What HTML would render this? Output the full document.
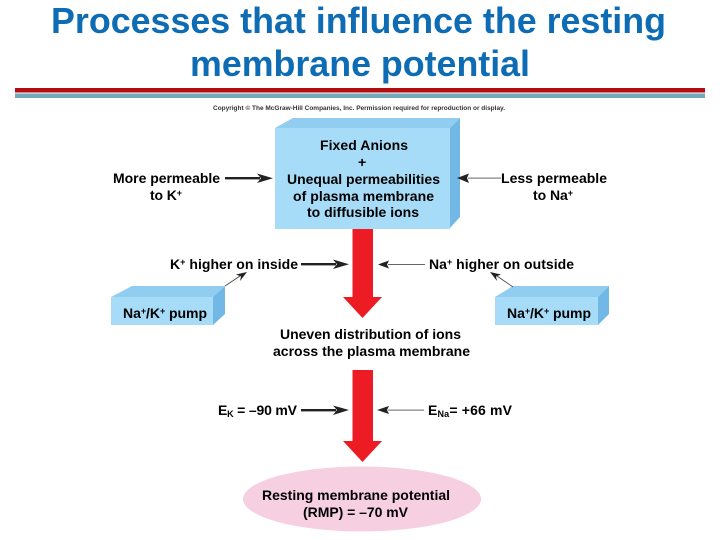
<!DOCTYPE html>
<html><head><meta charset="utf-8"><style>
html,body{margin:0;padding:0;background:#fff;width:720px;height:540px;overflow:hidden}
svg{display:block}
text{font-family:"Liberation Sans",sans-serif}
.l{font-size:14px;font-weight:bold;fill:#000}
.s{font-size:9px;font-weight:bold;fill:#000}
.t{font-size:36px;font-weight:bold;fill:#0d6cb3}
</style></head><body>
<svg width="720" height="540" viewBox="0 0 720 540" xmlns="http://www.w3.org/2000/svg">
<text class="t" x="51" y="33" textLength="615" lengthAdjust="spacingAndGlyphs">Processes that influence the resting</text>
<text class="t" x="190" y="76" textLength="340" lengthAdjust="spacingAndGlyphs">membrane potential</text>
<rect x="15" y="88" width="690" height="4.5" fill="#b30d12"/>
<rect x="15" y="93.5" width="690" height="4.5" fill="#72a9b8"/>
<text x="213" y="110" font-size="6.5" font-weight="bold" fill="#333" textLength="292" lengthAdjust="spacing">Copyright © The McGraw-Hill Companies, Inc. Permission required for reproduction or display.</text>

<!-- main box -->
<polygon points="275,128 293,118 460,118 450,128" fill="#90cdf0"/>
<polygon points="450,128 460,118 460,217 449,229" fill="#72b8e6"/>
<rect x="275" y="128" width="175" height="101" fill="#a6dcf8"/>

<!-- pumps -->
<polygon points="111,297 132,286 225,286 213,297" fill="#90cdf0"/>
<polygon points="213,297 225,286 225,314 213,325" fill="#72b8e6"/>
<rect x="111" y="297" width="102" height="28" fill="#a6dcf8"/>
<polygon points="495,297 513,286 609,286 598,297" fill="#90cdf0"/>
<polygon points="598,297 609,286 609,314 598,325" fill="#72b8e6"/>
<rect x="495" y="297" width="103" height="28" fill="#a6dcf8"/>

<!-- red arrows -->
<polygon points="352.5,229 373,229 373,297 382,297 362.5,318 343,297 352.5,297" fill="#ed1c24"/>
<polygon points="352.5,370 373,370 373,441 382,441 362.5,462 343,441 352.5,441" fill="#ed1c24"/>

<ellipse cx="362" cy="499" rx="119" ry="32.5" fill="#f6cfe0"/>

<!-- thick arrows -->
<g fill="#222">
<rect x="225" y="177" width="35" height="2.4"/><polygon points="273,178.2 257,173.5 261,178.2 257,183"/>
<rect x="301" y="263" width="35" height="2.4"/><polygon points="349,264.2 333,259.5 337,264.2 333,269"/>
<rect x="301" y="409" width="35" height="2.4"/><polygon points="349,410 333,405.5 337,410 333,415"/>
<!-- thin arrows -->
<rect x="468" y="177.6" width="33" height="1" fill="#666"/><polygon points="457,178 469,173.5 467,178 469,183"/>
<rect x="388" y="264" width="37" height="1" fill="#666"/><polygon points="378,264.5 389,260.5 387,264.5 389,268.5"/>
<rect x="388" y="409.6" width="36" height="1" fill="#666"/><polygon points="377,410 389,406 387,410 389,414"/>
</g>
<g stroke="#444" stroke-width=".8" fill="none">
<line x1="225" y1="286" x2="240" y2="276"/>
<line x1="513" y1="287" x2="497" y2="276"/>
</g>
<polygon points="247,272 236,274.5 241,276.5 240,281" fill="#222"/>
<polygon points="490,272 501,274.5 496,276.5 497,281" fill="#222"/>

<!-- labels -->
<text class="l" x="113" y="183" textLength="107">More permeable</text>
<text class="l" x="150" y="200" textLength="32">to K<tspan class="s" dy="-4">+</tspan></text>
<text class="l" x="320" y="150" textLength="88">Fixed Anions</text>
<text class="l" x="358" y="167">+</text>
<text class="l" x="287" y="184" textLength="153">Unequal permeabilities</text>
<text class="l" x="293" y="201" textLength="141">of plasma membrane</text>
<text class="l" x="307" y="217" textLength="112">to diffusible ions</text>
<text class="l" x="501" y="183" textLength="106">Less permeable</text>
<text class="l" x="533" y="200" textLength="40">to Na<tspan class="s" dy="-4">+</tspan></text>
<text class="l" x="170" y="269" textLength="128">K<tspan class="s" dy="-4">+</tspan><tspan dy="4"> higher on inside</tspan></text>
<text class="l" x="429" y="269" textLength="145">Na<tspan class="s" dy="-4">+</tspan><tspan dy="4"> higher on outside</tspan></text>
<text class="l" x="123" y="318" textLength="84">Na<tspan class="s" dy="-4">+</tspan><tspan dy="4">/K</tspan><tspan class="s" dy="-4">+</tspan><tspan dy="4"> pump</tspan></text>
<text class="l" x="507" y="318" textLength="84">Na<tspan class="s" dy="-4">+</tspan><tspan dy="4">/K</tspan><tspan class="s" dy="-4">+</tspan><tspan dy="4"> pump</tspan></text>
<text class="l" x="280" y="339" textLength="181">Uneven distribution of ions</text>
<text class="l" x="273" y="356" textLength="197">across the plasma membrane</text>
<text class="l" x="218" y="415" textLength="79">E<tspan class="s" dy="2">K</tspan><tspan dy="-2"> = –90 mV</tspan></text>
<text class="l" x="428" y="415" textLength="84">E<tspan class="s" dy="2">Na</tspan><tspan dy="-2">= +66 mV</tspan></text>
<text class="l" x="262" y="500" textLength="188">Resting membrane potential</text>
<text class="l" x="303" y="517" textLength="105">(RMP) = –70 mV</text>
</svg>
</body></html>
